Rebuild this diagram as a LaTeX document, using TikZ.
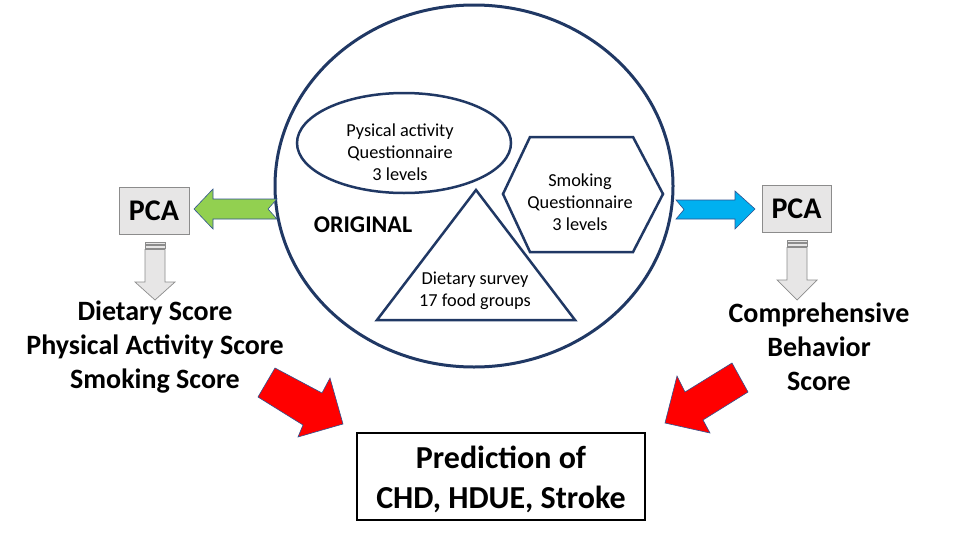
\documentclass[tikz,border=0pt]{standalone}
\usepackage{fontspec}
\setmainfont{Carlito}
\usetikzlibrary{shapes.geometric}
\definecolor{navy}{HTML}{203864}
\definecolor{arrgreen}{HTML}{92D050}
\definecolor{arrblue}{HTML}{00B0F0}
\definecolor{arrred}{HTML}{FF0000}
\definecolor{pcafill}{HTML}{E7E6E6}
\definecolor{pcaline}{HTML}{8C8C8C}
\definecolor{arrline}{HTML}{2F528F}
\begin{document}
\begin{tikzpicture}[x=1pt,y=-1pt,
  shapeline/.style={draw=navy,line width=2.5pt},
  innertext/.style={align=center,font=\fontsize{18.3}{21.8}\selectfont},
  bigtext/.style={align=center,font=\fontsize{28}{34}\selectfont\bfseries},
  pcabox/.style={draw=pcaline,fill=pcafill,line width=0.8pt,font=\fontsize{30}{34}\selectfont\bfseries,inner sep=0pt},
  blockarrow/.style={draw=arrline,line width=0.6pt},
  downarrow/.style={draw=pcaline,fill=pcafill,line width=0.7pt}]
\useasboundingbox (0,0) rectangle (960,541);
\fill[white] (0,0) rectangle (960,541);

% big ellipse
\node[ellipse,draw=navy,line width=3pt,minimum width=398pt,minimum height=362pt,inner sep=0pt] (orig) at (474,186) {};
\node[font=\fontsize{24}{28}\selectfont\bfseries] (origlbl) at (363,225) {ORIGINAL};

% physical activity ellipse
\node[ellipse,shapeline,minimum width=214pt,minimum height=100pt,inner sep=0pt] (pa) at (404,143) {};
\node[innertext] (patext) at (400,152.5) {Pysical activity\\Questionnaire\\3 levels};

% smoking hexagon
\coordinate (h1) at (530,137);
\coordinate (h2) at (633,137);
\coordinate (h3) at (663,194);
\coordinate (h4) at (633,252);
\coordinate (h5) at (530,252);
\coordinate (h6) at (503,194);
\draw[shapeline] (h1) -- (h2) -- (h3) -- (h4) -- (h5) -- (h6) -- cycle;
\node[innertext] (smtext) at (580,202.5) {Smoking\\Questionnaire\\3 levels};

% dietary triangle
\coordinate (t1) at (476,190);
\coordinate (t2) at (575,320);
\coordinate (t3) at (377,320);
\draw[shapeline,line join=miter] (t1) -- (t2) -- (t3) -- cycle;
\node[innertext] (dttext) at (475,291) {Dietary survey\\17 food groups};

% PCA boxes
\node[pcabox,minimum width=70pt,minimum height=47pt] (pcaL) at (154,210.5) {PCA};
\node[pcabox,minimum width=69pt,minimum height=47pt] (pcaR) at (796.5,208.5) {PCA};

% green notched arrow (to the left)
\draw[blockarrow,fill=arrgreen] (194,209) -- (213,189) -- (213,199) -- (277,199) -- (268,209) -- (277,219) -- (213,219) -- (213,229) -- cycle;
% blue notched arrow (to the right)
\draw[blockarrow,fill=arrblue] (755,209) -- (735,191) -- (735,200) -- (676,200) -- (684,209.5) -- (676,219) -- (735,219) -- (735,229) -- cycle;

% striped down arrows
\draw[downarrow] (145,242) rectangle (165,244);
\draw[downarrow] (145,245.5) rectangle (165,248);
\draw[downarrow] (145,249.5) -- (165,249.5) -- (165,282) -- (175,282) -- (155,300) -- (135,282) -- (145,282) -- cycle;
\draw[downarrow] (787,240) rectangle (807,242);
\draw[downarrow] (787,243.5) rectangle (807,246);
\draw[downarrow] (787,247.5) -- (807,247.5) -- (807,280) -- (817,280) -- (797,300) -- (777,280) -- (787,280) -- cycle;

% score texts
\node[bigtext] (scoresL) at (155,347.5) {Dietary Score\\Physical Activity Score\\Smoking Score};
\node[bigtext] (scoresR) at (819,347) {Comprehensive\\Behavior\\Score};

% red arrows
\draw[blockarrow,fill=arrred] (275,368) -- (322,393) -- (330,378) -- (343,424) -- (298,437) -- (303,425) -- (258,397) -- cycle;
\draw[blockarrow,fill=arrred] (732,363) -- (748,392) -- (703,420) -- (710,433) -- (665,423) -- (677,376) -- (685,392) -- cycle;

% prediction box
\node[draw=black,line width=2.5pt,minimum width=288pt,minimum height=87pt] (pred) at (501,476.5) {};
\node[align=center,font=\fontsize{32}{40}\selectfont\bfseries] (predtext) at (501,479) {Prediction of\\CHD, HDUE, Stroke};
\end{tikzpicture}
\end{document}
